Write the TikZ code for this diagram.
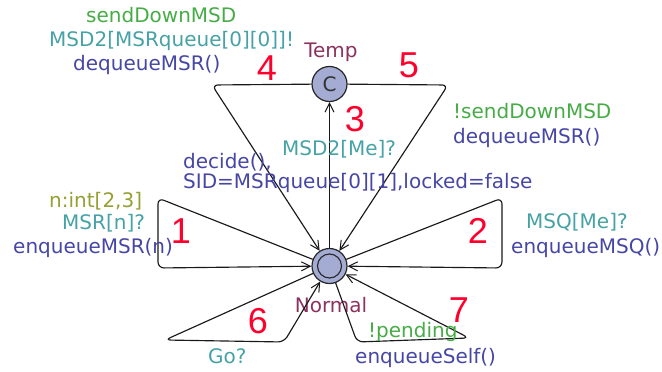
\documentclass[tikz,border=0pt]{standalone}
\usepackage{fontspec}
\setmainfont{DejaVu Sans}
\newfontfamily\numfont{Liberation Sans}
\usetikzlibrary{arrows.meta}

\definecolor{locfill}{RGB}{164,172,212}
\definecolor{locname}{RGB}{140,50,95}
\definecolor{syncgreen}{RGB}{70,172,70}
\definecolor{chanteal}{RGB}{70,162,165}
\definecolor{updblue}{RGB}{70,70,165}
\definecolor{selolive}{RGB}{150,160,50}
\definecolor{numred}{RGB}{255,0,45}

\begin{document}
\begin{tikzpicture}[x=1pt,y=-1pt,
  loc/.style={circle, draw=black!85, fill=locfill, minimum size=35pt, inner sep=0pt, line width=1.2pt},
  trans/.style={draw=black!90, line width=1.15pt, rounded corners=6pt,
    -{Straight Barb[length=9pt,width=9pt,line width=1pt]}},
  lbl/.style={font=\fontsize{20}{24}\selectfont, inner sep=0pt, anchor=base west},
  lname/.style={font=\fontsize{20}{24}\selectfont, inner sep=0pt, anchor=base, text=locname},
  num/.style={font=\numfont\fontsize{36}{36}\selectfont, inner sep=0pt, anchor=base, text=numred}]
\useasboundingbox (0,0) rectangle (662,372);

% locations
\node[loc] (temp) at (329.5,84) {};
\node[font=\fontsize{20}{24}\selectfont, text=black!80] (tempc) at (temp.center) {C};
\node[loc] (normal) at (329.5,266) {};
\draw[line width=1.1pt, black!85] (normal.center) circle (12pt);
\node[lname] (tempname) at (331,57) {Temp};
\node[lname] (normalname) at (331,312) {Normal};

% bend points of the transitions
\coordinate (b4) at (212,85);
\coordinate (b5) at (448,85);
\coordinate (b1a) at (158,198);
\coordinate (b1b) at (158,268);
\coordinate (b2a) at (502,198);
\coordinate (b2b) at (502,268);
\coordinate (b6a) at (165,340);
\coordinate (b6b) at (284,342);
\coordinate (b7a) at (357,342);
\coordinate (b7b) at (469,338);

% transitions
\draw[trans] (normal) -- (temp);
\draw[trans] (temp) -- (b4) -- (normal);
\draw[trans] (temp) -- (b5) -- (normal);
\draw[trans] (normal) -- (b1a) -- (b1b) -- (normal);
\draw[trans] (normal) -- (b2a) -- (b2b) -- (normal);
\draw[trans] (normal) -- (b6a) -- (b6b) -- (normal);
\draw[trans] (normal) -- (b7a) -- (b7b) -- (normal);

% transition labels
\node[lbl, text=syncgreen] (g4) at (86,22) {sendDownMSD};
\node[lbl, text=chanteal] (s4) at (49,46) {MSD2[MSRqueue[0][0]]!};
\node[lbl, text=updblue] (u4) at (73,70) {dequeueMSR()};

\node[lbl, text=chanteal] (s3) at (282,155) {MSD2[Me]?};
\node[lbl, text=updblue] (u3a) at (183,168) {decide(),};
\node[lbl, text=updblue] (u3b) at (183,188) {SID=MSRqueue[0][1],locked=false};

\node[lbl, text=syncgreen] (g5) at (453,118) {!sendDownMSD};
\node[lbl, text=updblue] (u5) at (453,143) {dequeueMSR()};

\node[lbl, text=selolive] (sel1) at (49,207) {n:int[2,3]};
\node[lbl, text=chanteal] (s1) at (62,229) {MSR[n]?};
\node[lbl, text=updblue] (u1) at (13,253) {enqueueMSR(n)};

\node[lbl, text=chanteal] (s2) at (526,228) {MSQ[Me]?};
\node[lbl, text=updblue] (u2) at (511,253) {enqueueMSQ()};

\node[lbl, text=chanteal] (s6) at (208,363) {Go?};

\node[lbl, text=syncgreen] (g7) at (368,337) {!pending};
\node[lbl, text=updblue] (u7) at (355,363) {enqueueSelf()};

% transition numbers
\node[num] (n4) at (267,80) {4};
\node[num] (n5) at (409,77) {5};
\node[num] (n3) at (355,131) {3};
\node[num] (n1) at (181,243) {1};
\node[num] (n2) at (478,243) {2};
\node[num] (n6) at (258,333) {6};
\node[num] (n7) at (459,322) {7};
\end{tikzpicture}
\end{document}
